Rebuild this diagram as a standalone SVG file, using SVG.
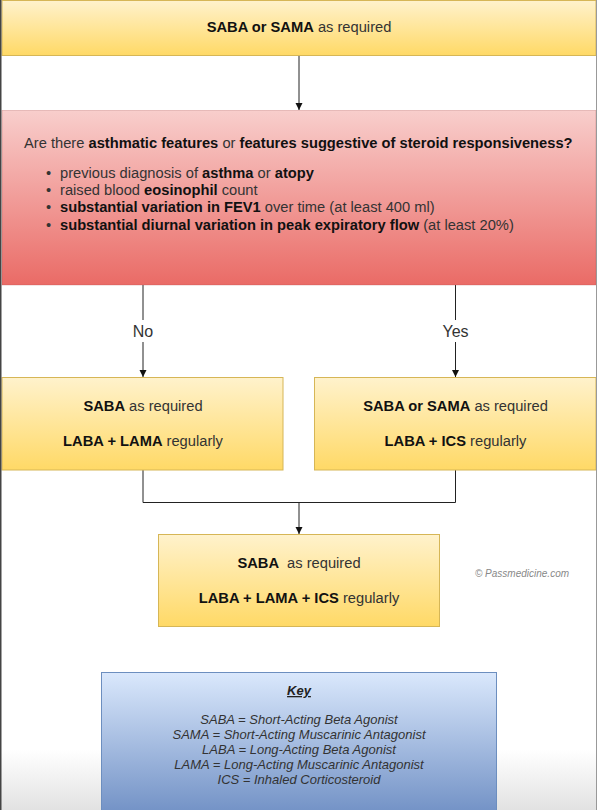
<svg xmlns="http://www.w3.org/2000/svg" width="597" height="810" viewBox="0 0 597 810">
  <defs>
    <linearGradient id="gY" x1="0" y1="0" x2="0" y2="1">
      <stop offset="0" stop-color="#fff2cc"/>
      <stop offset="1" stop-color="#ffd966"/>
    </linearGradient>
    <linearGradient id="gR" x1="0" y1="0" x2="0" y2="1">
      <stop offset="0" stop-color="#f8cecc"/>
      <stop offset="1" stop-color="#ea6b66"/>
    </linearGradient>
    <linearGradient id="gB" x1="0" y1="0" x2="0" y2="1">
      <stop offset="0" stop-color="#dae8fc"/>
      <stop offset="1" stop-color="#6f8fc4"/>
    </linearGradient>
    <linearGradient id="gS" x1="0" y1="0" x2="0" y2="1">
      <stop offset="0" stop-color="#ffffff"/>
      <stop offset="1" stop-color="#e2e2e2"/>
    </linearGradient>
    <marker id="arr" markerWidth="8" markerHeight="8" refX="7" refY="4" orient="auto" markerUnits="userSpaceOnUse">
      <path d="M0,0.5 L7,4 L0,7.5 Z" fill="#111"/>
    </marker>
    <style>
      text { font-family: "Liberation Sans", Arial, Helvetica, sans-serif; fill: #333; }
      .t14 { font-size: 14.7px; }
      .b { font-weight: bold; fill: #111; }
      .yel { fill: url(#gY); stroke: #d6b656; stroke-width: 1; }
      .red { fill: url(#gR); stroke: #b85450; stroke-width: 0.6; stroke-opacity: 0.5; }
      .blu { fill: url(#gB); stroke: #6c8ebf; stroke-width: 1; }
      .ln { fill: none; stroke: #222; stroke-width: 1; }
      .lbl { font-size: 16px; fill: #333; }
      .key { font-size: 13px; font-style: italic; fill: #333; }
    </style>
  </defs>

  <rect x="0" y="0" width="597" height="810" fill="#ffffff"/>
  <rect x="0" y="750" width="597" height="60" fill="url(#gS)"/>

  <g id="connectors">
    <line class="ln" x1="299" y1="55.5" x2="299" y2="110" marker-end="url(#arr)"/>
    <line class="ln" x1="143" y1="285" x2="143" y2="377" marker-end="url(#arr)"/>
    <line class="ln" x1="455.5" y1="285" x2="455.5" y2="377" marker-end="url(#arr)"/>
    <rect x="125" y="320" width="36" height="22" fill="#ffffff"/>
    <rect x="436" y="320" width="39" height="22" fill="#ffffff"/>
    <text class="lbl" x="143" y="337" text-anchor="middle">No</text>
    <text class="lbl" x="455.5" y="337" text-anchor="middle">Yes</text>
    <polyline class="ln" points="143,470 143,502.5 455.5,502.5 455.5,470"/>
    <line class="ln" x1="299" y1="502.5" x2="299" y2="534" marker-end="url(#arr)"/>
  </g>

  <g id="node-start">
    <rect class="yel" x="2" y="0.5" width="594" height="55"/>
    <text class="t14" x="299" y="32" text-anchor="middle"><tspan class="b">SABA or SAMA</tspan> as required</text>
  </g>

  <g id="node-question">
    <rect class="red" x="2" y="110.5" width="594" height="174.5"/>
    <text class="t14" x="24" y="148"><tspan>Are there </tspan><tspan class="b">asthmatic features</tspan><tspan> or </tspan><tspan class="b">features suggestive of steroid responsiveness?</tspan></text>
    <text class="t14" x="46" y="178">•</text>
    <text class="t14" x="60" y="178">previous diagnosis of <tspan class="b">asthma</tspan> or <tspan class="b">atopy</tspan></text>
    <text class="t14" x="46" y="195">•</text>
    <text class="t14" x="60" y="195">raised blood <tspan class="b">eosinophil</tspan> count</text>
    <text class="t14" x="46" y="212">•</text>
    <text class="t14" x="60" y="212"><tspan class="b">substantial variation in FEV1</tspan> over time (at least 400 ml)</text>
    <text class="t14" x="46" y="230">•</text>
    <text class="t14" x="60" y="230"><tspan class="b">substantial diurnal variation in peak expiratory flow</tspan> (at least 20%)</text>
  </g>

  <g id="node-no">
    <rect class="yel" x="2" y="377.5" width="281" height="92.5"/>
    <text class="t14" x="143" y="411" text-anchor="middle"><tspan class="b">SABA</tspan> as required</text>
    <text class="t14" x="143" y="446" text-anchor="middle"><tspan class="b">LABA + LAMA</tspan> regularly</text>
  </g>

  <g id="node-yes">
    <rect class="yel" x="314.5" y="377.5" width="281.5" height="92.5"/>
    <text class="t14" x="455.5" y="411" text-anchor="middle"><tspan class="b">SABA or SAMA</tspan> as required</text>
    <text class="t14" x="455.5" y="446" text-anchor="middle"><tspan class="b">LABA + ICS</tspan> regularly</text>
  </g>

  <g id="node-triple">
    <rect class="yel" x="158.5" y="534.5" width="281" height="92"/>
    <text class="t14" x="299" y="568" text-anchor="middle"><tspan class="b">SABA</tspan><tspan dx="4"> as required</tspan></text>
    <text class="t14" x="299" y="603" text-anchor="middle"><tspan class="b">LABA + LAMA + ICS</tspan> regularly</text>
  </g>

  <text x="522" y="577" text-anchor="middle" font-size="10" font-style="italic" style="fill:#888">© Passmedicine.com</text>

  <g id="node-key">
    <rect class="blu" x="101.5" y="672.5" width="395" height="145"/>
    <text x="299" y="695" text-anchor="middle" font-size="13" font-weight="bold" font-style="italic" text-decoration="underline" style="fill:#222">Key</text>
    <text class="key" x="299" y="724" text-anchor="middle">SABA = Short-Acting Beta Agonist</text>
    <text class="key" x="299" y="739" text-anchor="middle">SAMA = Short-Acting Muscarinic Antagonist</text>
    <text class="key" x="299" y="754" text-anchor="middle">LABA = Long-Acting Beta Agonist</text>
    <text class="key" x="299" y="769" text-anchor="middle">LAMA = Long-Acting Muscarinic Antagonist</text>
    <text class="key" x="299" y="784" text-anchor="middle">ICS = Inhaled Corticosteroid</text>
  </g>

  <line x1="0.75" y1="0" x2="0.75" y2="810" stroke="#444" stroke-width="1.5"/>
  <line x1="596.5" y1="0" x2="596.5" y2="810" stroke="#999" stroke-width="1"/>
</svg>
